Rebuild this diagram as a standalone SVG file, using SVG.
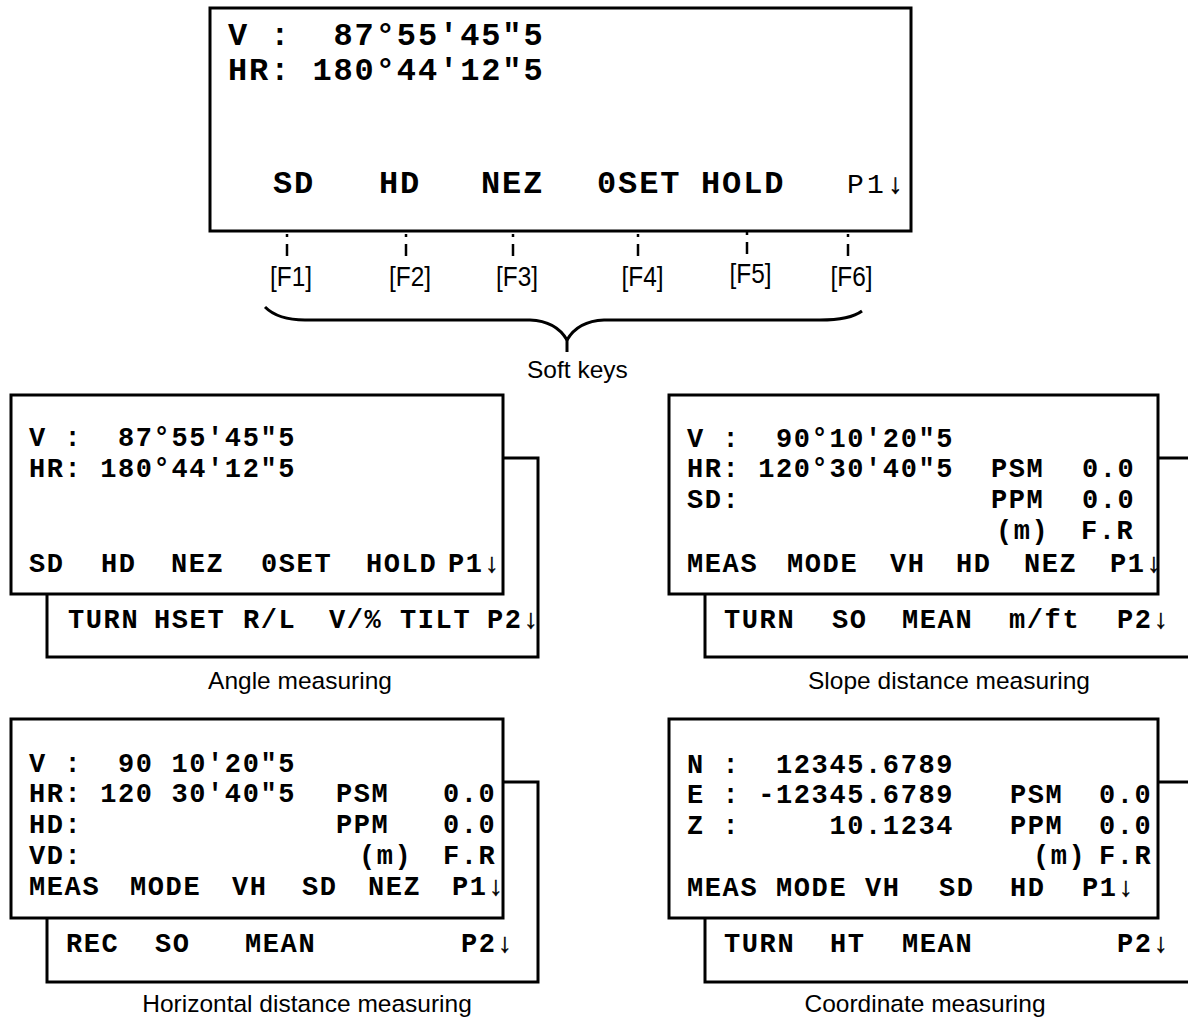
<svg xmlns="http://www.w3.org/2000/svg" width="1188" height="1023" viewBox="0 0 1188 1023">
<style>
.box{fill:#fff;stroke:#000;stroke-width:3}
.lcd{font-family:'Liberation Mono','Courier New',monospace;font-weight:bold;font-size:27px;letter-spacing:1.6px;fill:#000;white-space:pre}
.top{font-size:32px;letter-spacing:1.9px}
.pg{font-weight:normal;font-size:28px;letter-spacing:3.2px}
.arr{font-weight:normal;font-family:'Liberation Mono',monospace;fill:#000;stroke:#000;stroke-width:0.5}
.cap{font-family:'Liberation Sans',Arial,sans-serif;font-size:24.5px;fill:#000}
.fk{font-family:'Liberation Sans',Arial,sans-serif;font-size:28px;fill:#000}
.tick{stroke:#000;stroke-width:2.5;stroke-dasharray:3 7 12 100;fill:none}
.brace{stroke:#000;stroke-width:3;fill:none;stroke-linejoin:round}
</style>
<rect width="1188" height="1023" fill="#fff"/>

<g id="main-display">
<rect class="box" x="210" y="8" width="701" height="223"/>
<text class="lcd top" xml:space="preserve" x="228" y="45">V :  87°55'45"5</text>
<text class="lcd top" xml:space="preserve" x="228" y="80">HR: 180°44'12"5</text>
<text class="lcd top" y="193"><tspan x="273">SD</tspan><tspan x="379">HD</tspan><tspan x="481">NEZ</tspan><tspan x="597">0SET</tspan><tspan x="701">HOLD</tspan></text>
<text class="lcd pg" y="193"><tspan x="847">P1</tspan><tspan class="arr">↓</tspan></text>
</g>

<g id="connectors">
<line class="tick" x1="287" y1="234" x2="287" y2="258"/>
<line class="tick" x1="406" y1="234" x2="406" y2="258"/>
<line class="tick" x1="513" y1="234" x2="513" y2="258"/>
<line class="tick" x1="638" y1="234" x2="638" y2="258"/>
<line class="tick" x1="747" y1="232" x2="747" y2="256"/>
<line class="tick" x1="848" y1="234" x2="848" y2="258"/>
<path class="brace" d="M265,307 Q278,320 305,320 L530,320 Q556,321 567,340 Q578,321 604,320 L820,320 Q850,320 862,311"/>
<line class="brace" x1="567" y1="338" x2="567" y2="352"/>
</g>

<g id="softkey-labels">
<text class="fk" textLength="42" lengthAdjust="spacingAndGlyphs" x="270" y="286">[F1]</text>
<text class="fk" textLength="42" lengthAdjust="spacingAndGlyphs" x="389" y="286">[F2]</text>
<text class="fk" textLength="42" lengthAdjust="spacingAndGlyphs" x="496" y="286">[F3]</text>
<text class="fk" textLength="42" lengthAdjust="spacingAndGlyphs" x="621.5" y="286">[F4]</text>
<text class="fk" textLength="42" lengthAdjust="spacingAndGlyphs" x="729.5" y="283">[F5]</text>
<text class="fk" textLength="42" lengthAdjust="spacingAndGlyphs" x="830.5" y="286">[F6]</text>
<text class="cap" x="527" y="378">Soft keys</text>
</g>

<g id="angle-measuring">
<rect class="box" x="47" y="458" width="491" height="199"/>
<rect class="box" x="11" y="395" width="492" height="199"/>
<text class="lcd" xml:space="preserve" x="29" y="446">V :  87°55'45"5</text>
<text class="lcd" xml:space="preserve" x="29" y="477">HR: 180°44'12"5</text>
<text class="lcd" y="572"><tspan x="29">SD</tspan><tspan x="101">HD</tspan><tspan x="171">NEZ</tspan><tspan x="261">0SET</tspan><tspan x="366">HOLD</tspan><tspan x="448">P1</tspan><tspan class="arr">↓</tspan></text>
<text class="lcd" y="628"><tspan x="68">TURN</tspan><tspan x="154">HSET</tspan><tspan x="243">R/L</tspan><tspan x="329">V/%</tspan><tspan x="400">TILT</tspan><tspan x="487">P2</tspan><tspan class="arr">↓</tspan></text>
<text class="cap" text-anchor="middle" x="300" y="689">Angle measuring</text>
</g>

<g id="slope-distance-measuring">
<rect class="box" x="705" y="458" width="500" height="199"/>
<rect class="box" x="669" y="395" width="489" height="199"/>
<text class="lcd" xml:space="preserve" x="687" y="447">V :  90°10'20"5</text>
<text class="lcd" y="477"><tspan x="687" xml:space="preserve">HR: 120°30'40"5</tspan><tspan x="991">PSM</tspan><tspan x="1082">0.0</tspan></text>
<text class="lcd" y="508"><tspan x="687">SD:</tspan><tspan x="991">PPM</tspan><tspan x="1082">0.0</tspan></text>
<text class="lcd" y="539"><tspan x="996">(m)</tspan><tspan x="1081">F.R</tspan></text>
<text class="lcd" y="572"><tspan x="687">MEAS</tspan><tspan x="787">MODE</tspan><tspan x="890">VH</tspan><tspan x="956">HD</tspan><tspan x="1024">NEZ</tspan><tspan x="1110">P1</tspan><tspan class="arr">↓</tspan></text>
<text class="lcd" y="628"><tspan x="724">TURN</tspan><tspan x="832">SO</tspan><tspan x="902">MEAN</tspan><tspan x="1009">m/ft</tspan><tspan x="1117">P2</tspan><tspan class="arr">↓</tspan></text>
<text class="cap" text-anchor="middle" x="949" y="689">Slope distance measuring</text>
</g>

<g id="horizontal-distance-measuring">
<rect class="box" x="47" y="782" width="491" height="200"/>
<rect class="box" x="11" y="719" width="492" height="199"/>
<text class="lcd" xml:space="preserve" x="29" y="772">V :  90 10'20"5</text>
<text class="lcd" y="802"><tspan x="29" xml:space="preserve">HR: 120 30'40"5</tspan><tspan x="336">PSM</tspan><tspan x="443">0.0</tspan></text>
<text class="lcd" y="833"><tspan x="29">HD:</tspan><tspan x="336">PPM</tspan><tspan x="443">0.0</tspan></text>
<text class="lcd" y="864"><tspan x="29">VD:</tspan><tspan x="359">(m)</tspan><tspan x="443">F.R</tspan></text>
<text class="lcd" y="895"><tspan x="29">MEAS</tspan><tspan x="130">MODE</tspan><tspan x="232">VH</tspan><tspan x="302">SD</tspan><tspan x="368">NEZ</tspan><tspan x="452">P1</tspan><tspan class="arr">↓</tspan></text>
<text class="lcd" y="952"><tspan x="66">REC</tspan><tspan x="155">SO</tspan><tspan x="245">MEAN</tspan><tspan x="461">P2</tspan><tspan class="arr">↓</tspan></text>
<text class="cap" text-anchor="middle" x="307" y="1012">Horizontal distance measuring</text>
</g>

<g id="coordinate-measuring">
<rect class="box" x="705" y="782" width="500" height="200"/>
<rect class="box" x="669" y="719" width="489" height="199"/>
<text class="lcd" xml:space="preserve" x="687" y="773">N :  12345.6789</text>
<text class="lcd" y="803"><tspan x="687" xml:space="preserve">E : -12345.6789</tspan><tspan x="1010">PSM</tspan><tspan x="1099">0.0</tspan></text>
<text class="lcd" y="834"><tspan x="687" xml:space="preserve">Z :     10.1234</tspan><tspan x="1010">PPM</tspan><tspan x="1099">0.0</tspan></text>
<text class="lcd" y="864"><tspan x="1033">(m)</tspan><tspan x="1099">F.R</tspan></text>
<text class="lcd" y="896"><tspan x="687">MEAS</tspan><tspan x="776">MODE</tspan><tspan x="865">VH</tspan><tspan x="939">SD</tspan><tspan x="1010">HD</tspan><tspan x="1082">P1</tspan><tspan class="arr">↓</tspan></text>
<text class="lcd" y="952"><tspan x="724">TURN</tspan><tspan x="830">HT</tspan><tspan x="902">MEAN</tspan><tspan x="1117">P2</tspan><tspan class="arr">↓</tspan></text>
<text class="cap" text-anchor="middle" x="925" y="1012">Coordinate measuring</text>
</g>
</svg>
